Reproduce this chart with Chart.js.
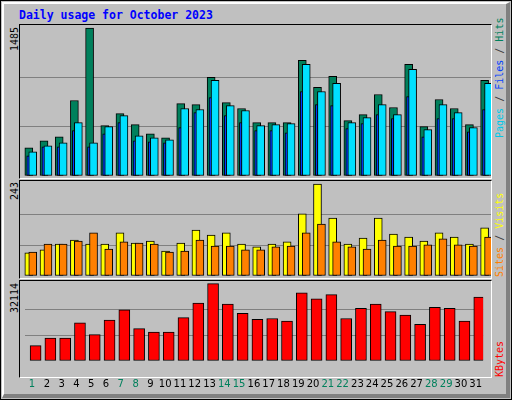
<!DOCTYPE html>
<html><head><meta charset="utf-8">
<script src="https://cdn.jsdelivr.net/npm/chart.js@4"></script>
<style>
html,body{margin:0;padding:0;background:#c0c0c0;}
#frame{position:absolute;left:0;top:0;width:510px;height:398px;border:1px solid #000;background:#c0c0c0;overflow:hidden;}
#bevel{position:absolute;left:1px;top:1px;width:502px;height:390px;border-top:2px solid #fff;border-left:2px solid #fff;border-right:4px solid #808080;border-bottom:4px solid #808080;}
.panel{position:absolute;left:19px;width:471px;border-top:1px solid #000;border-left:1px solid #000;border-right:1px solid #fff;border-bottom:1px solid #fff;}
canvas{position:absolute;}
.rot{position:absolute;transform-origin:0 0;transform:rotate(-90deg);white-space:nowrap;font-family:"DejaVu Sans Mono",monospace;font-size:10px;line-height:10px;}
#title{position:absolute;left:19px;top:8px;font-family:"DejaVu Sans Mono",monospace;font-weight:bold;font-size:11.5px;color:#0000ff;}
</style></head><body>
<div id="frame"><div id="bevel"></div></div>
<div id="title">Daily usage for October 2023</div>
<div class="panel" style="top:24px;height:153px"></div>
<div class="panel" style="top:180px;height:97px"></div>
<div class="panel" style="top:280px;height:96px"></div>
<canvas id="c1" width="471" height="152" style="left:20px;top:25px"></canvas>
<canvas id="c2" width="471" height="96" style="left:20px;top:181px"></canvas>
<canvas id="c3" width="471" height="118" style="left:20px;top:281px"></canvas>
<div class="rot" style="left:10px;top:51px;color:#000">1485</div>
<div class="rot" style="left:10px;top:200px;color:#000">243</div>
<div class="rot" style="left:10px;top:313px;color:#000">32114</div>
<div class="rot" style="left:495px;top:138px"><span style="color:#00c8e8">Pages</span><span style="color:#404040"> / </span><span style="color:#0040ff">Files</span><span style="color:#404040"> / </span><span style="color:#00805c">Hits</span></div>
<div class="rot" style="left:495px;top:277px"><span style="color:#ff8000">Sites</span><span style="color:#404040"> / </span><span style="color:#ffff00">Visits</span></div>
<div class="rot" style="left:495px;top:377px"><span style="color:#ff0000">KBytes</span></div>
<script>
const days=[1,2,3,4,5,6,7,8,9,10,11,12,13,14,15,16,17,18,19,20,21,22,23,24,25,26,27,28,29,30,31];
const weekendDays=[1,7,8,14,15,21,22,28,29];
const hits=[283,354,394,758,1485,505,626,515,424,384,727,717,990,737,677,535,535,535,1162,889,1000,556,616,818,687,1121,495,768,677,515,960];
const files=[242,303,333,535,333,495,606,404,384,364,677,667,960,707,657,505,515,525,1121,848,929,535,586,717,616,1071,465,717,636,485,929];
const pages=[202,293,293,455,293,424,535,354,343,333,485,636,788,606,535,455,455,434,848,717,707,475,525,616,576,798,394,576,576,444,667];
const visits=[61,69,84,95,84,84,114,87,92,66,87,121,108,114,84,77,84,90,164,243,153,84,100,153,111,103,92,114,103,84,127];
const sites=[63,84,84,92,114,71,90,87,84,63,66,95,79,79,69,69,77,79,114,137,90,77,71,95,79,79,82,98,82,79,103];
const kbytes=[6351,9526,9526,15876,10937,16935,21168,13406,11995,11995,17993,23990,32114,23638,19757,17287,17640,16582,28224,25754,27518,17640,21874,23638,20462,19051,15170,22226,21874,16582,26460];
const maxTop=1485,maxMid=243,maxBot=32114;

const pts=(arr,off)=>arr.map((v,i)=>({x:days[i]+off,y:v}));
const ds=(arr,off,w,color,order)=>({data:pts(arr,off),backgroundColor:color,borderColor:'#000',borderWidth:1,barThickness:w,order:order,borderSkipped:false,grouped:false});
function opts(max,headroom,bottomPad,showX){
  return {responsive:false,animation:false,devicePixelRatio:1,
    plugins:{legend:{display:false},tooltip:{enabled:false}},
    layout:{padding:{bottom:bottomPad}},
    scales:{
      x:{type:'linear',min:0.5,max:31.5,display:showX,offset:false,
        grid:{display:false},border:{display:false},
        afterBuildTicks:a=>{a.ticks=days.map(d=>({value:d}));},
        ticks:{autoSkip:false,maxRotation:0,padding:9,font:{family:'DejaVu Sans',size:10},
          color:c=>weekendDays.includes(c.tick.value)?'#00805c':'#000',callback:v=>String(v)}},
      y:{min:0,max:max*headroom,display:true,
        afterBuildTicks:a=>{a.ticks=[{value:0},{value:max/3},{value:2*max/3}];},
        ticks:{display:false},border:{display:false},
        grid:{drawTicks:false,color:c=>(c.index===1||c.index===2)?'#808080':'rgba(0,0,0,0)',lineWidth:1}}
    }};
}
new Chart(document.getElementById('c1'),{type:'bar',data:{datasets:[
  ds(hits,0.08,8,'#00805c',3),ds(pages,0.04,3,'#0040ff',2),ds(files,0.34,8,'#00e0ff',1)]},options:opts(maxTop,150/147,1,false)});
new Chart(document.getElementById('c2'),{type:'bar',data:{datasets:[
  ds(visits,0.08,8,'#ffff00',2),ds(sites,0.34,8,'#ff8000',1)]},options:opts(maxMid,95/92,1,false)});
new Chart(document.getElementById('c3'),{type:'bar',data:{datasets:[
  ds(kbytes,0.24,11,'#ff0000',1)]},options:opts(maxBot,94/91,0,true)});
</script>
</body></html>
